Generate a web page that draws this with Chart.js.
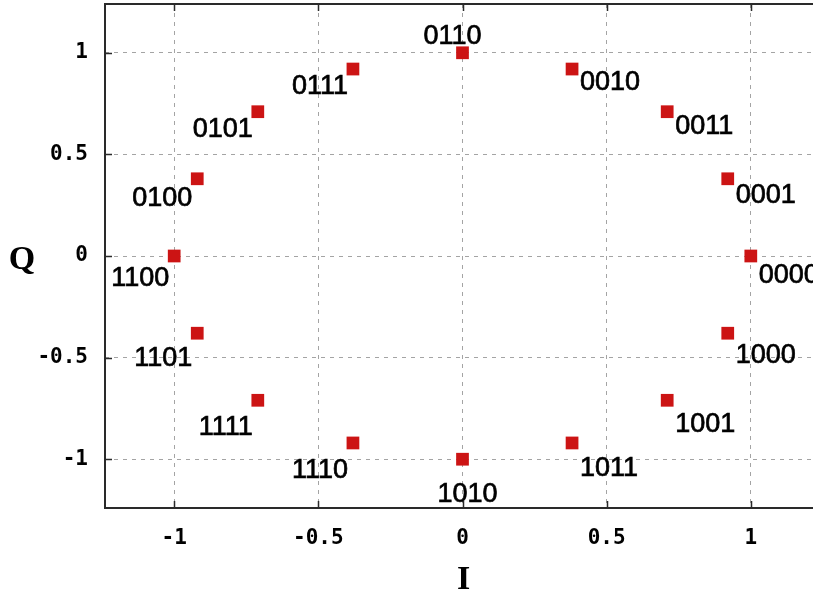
<!DOCTYPE html>
<html>
<head>
<meta charset="utf-8">
<script src="https://cdn.jsdelivr.net/npm/chart.js@4/dist/chart.umd.min.js"></script>
<style>
  html, body { margin: 0; padding: 0; background: #fff; overflow: hidden; }
  #wrap { width: 830px; height: 598px; }
</style>
</head>
<body>
<div id="wrap"><canvas id="c" width="830" height="598"></canvas></div>
<script>
// ---- data ----
const bitLabels = ['0000','0001','0011','0010','0110','0111','0101','0100',
                   '1100','1101','1111','1110','1010','1011','1001','1000'];
const iValues = [1, 0.92, 0.71, 0.38, 0, -0.38, -0.71, -0.92,
                 -1, -0.92, -0.71, -0.38, 0, 0.38, 0.71, 0.92];
const qValues = [0, 0.38, 0.71, 0.92, 1, 0.92, 0.71, 0.38,
                 0, -0.38, -0.71, -0.92, -1, -0.92, -0.71, -0.38];
const xTickValues = [-1, -0.5, 0, 0.5, 1];
const yTickValues = [-1, -0.5, 0, 0.5, 1];
const xTitle = 'I';
const yTitle = 'Q';

const points = iValues.map((v, k) => ({ x: v, y: qValues[k] }));

const tickFont = { family: '"DejaVu Sans Mono", monospace', size: 21, weight: 'bold' };

const framePlugin = {
  id: 'frame',
  afterDraw(chart) {
    const { ctx, chartArea: a, scales } = chart;
    ctx.save();
    ctx.strokeStyle = '#2a2a2a';
    ctx.lineWidth = 2;
    ctx.strokeRect(a.left, a.top, a.right - a.left, a.bottom - a.top);
    // inward tick marks (mirrored)
    const tl = 7;
    ctx.beginPath();
    xTickValues.forEach(v => {
      const px = Math.round(scales.x.getPixelForValue(v)) + 0.5;
      ctx.moveTo(px, a.bottom); ctx.lineTo(px, a.bottom - tl);
      ctx.moveTo(px, a.top); ctx.lineTo(px, a.top + tl);
    });
    yTickValues.forEach(v => {
      const py = Math.round(scales.y.getPixelForValue(v)) + 0.5;
      ctx.moveTo(a.left, py); ctx.lineTo(a.left + tl, py);
      ctx.moveTo(a.right, py); ctx.lineTo(a.right - tl, py);
    });
    ctx.lineWidth = 1.5;
    ctx.stroke();
    // axis titles
    ctx.fillStyle = '#000';
    ctx.font = 'bold 34px "Liberation Serif", "DejaVu Serif", serif';
    ctx.textAlign = 'center';
    ctx.textBaseline = 'middle';
    ctx.fillText(yTitle, 22, (a.top + a.bottom) / 2 + 4);
    ctx.fillText(xTitle, (a.left + a.right) / 2 + 1, 580);
    ctx.restore();
  }
};

const labelPlugin = {
  id: 'pointLabels',
  afterDatasetsDraw(chart) {
    const { ctx } = chart;
    const meta = chart.getDatasetMeta(0);
    ctx.save();
    ctx.fillStyle = '#000';
    ctx.strokeStyle = '#000';
    ctx.lineWidth = 0.7;
    ctx.font = '27px "Liberation Sans", Arial, sans-serif';
    ctx.textBaseline = 'alphabetic';
    meta.data.forEach((el, k) => {
      const i = iValues[k], q = qValues[k];
      const px = el.x, py = el.y;
      let tx, ty;
      if (Math.abs(i) < 0.05) {
        ctx.textAlign = 'center';
        tx = px - (q > 0 ? 10 : -5);
        ty = q > 0 ? py - 9 : py + 43;
      } else if (i > 0) {
        ctx.textAlign = 'left';
        tx = px + 8;
        ty = py + 27 - 7 * q;
      } else {
        ctx.textAlign = 'right';
        tx = px - 5;
        ty = py + 30 - 6 * q;
      }
      ctx.fillText(bitLabels[k], tx, ty);
      ctx.strokeText(bitLabels[k], tx, ty);
    });
    ctx.restore();
  }
};

new Chart(document.getElementById('c'), {
  type: 'scatter',
  data: {
    datasets: [{
      data: points,
      pointStyle: 'rect',
      pointRadius: 9,
      pointHoverRadius: 9,
      backgroundColor: '#cc1414',
      borderColor: '#cc1414',
      borderWidth: 0
    }]
  },
  options: {
    responsive: false,
    animation: false,
    devicePixelRatio: 1,
    layout: { autoPadding: false, padding: { top: 4, right: 10, left: 0, bottom: 0 } },
    plugins: { legend: { display: false }, tooltip: { enabled: false } },
    scales: {
      x: {
        type: 'linear',
        min: -1.24, max: 1.24,
        afterBuildTicks(s) { s.ticks = xTickValues.map(v => ({ value: v })); },
        afterFit(s) { s.height = 90; s.paddingLeft = 0; s.paddingRight = 0; },
        grid: { color: '#a4a4a4', lineWidth: 1, drawTicks: false },
        border: { display: false, dash: [4, 5] },
        ticks: { color: '#000', font: tickFont, padding: 18, maxRotation: 0,
                 callback: v => String(v) }
      },
      y: {
        type: 'linear',
        min: -1.24, max: 1.24,
        afterBuildTicks(s) { s.ticks = yTickValues.map(v => ({ value: v })); },
        afterFit(s) { s.width = 105; s.paddingTop = 0; s.paddingBottom = 0; },
        grid: { color: '#a4a4a4', lineWidth: 1, drawTicks: false },
        border: { display: false, dash: [4, 5] },
        ticks: { color: '#000', font: tickFont, padding: 17,
                 callback: v => String(v) }
      }
    }
  },
  plugins: [labelPlugin, framePlugin]
});
</script>
</body>
</html>
